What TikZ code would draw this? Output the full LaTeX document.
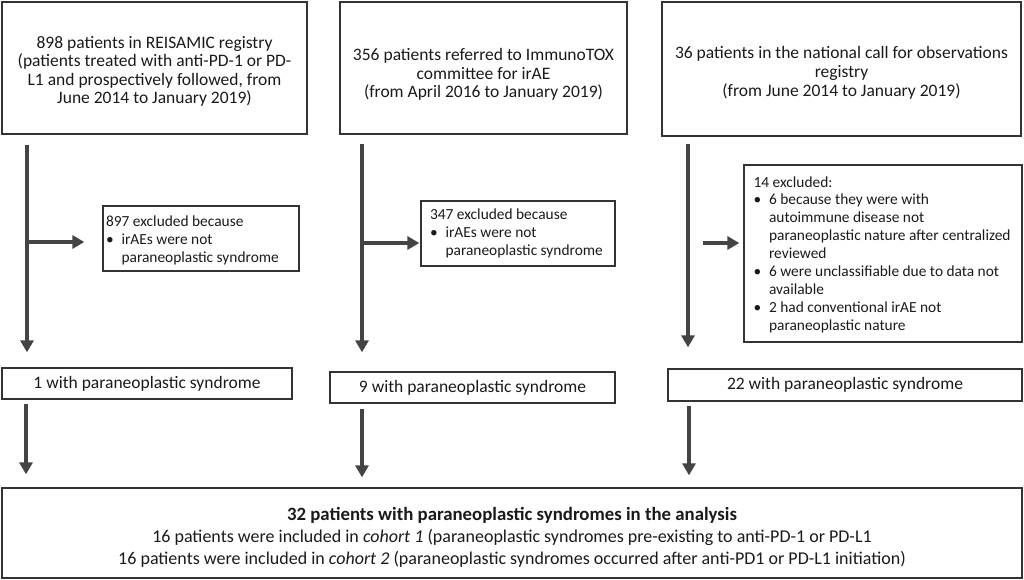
\documentclass[tikz,border=0pt]{standalone}
\usepackage{fontspec}
\setmainfont{Carlito}
\usetikzlibrary{arrows.meta}
\definecolor{boxc}{HTML}{333333}
\definecolor{arrc}{HTML}{444444}
\definecolor{txt}{HTML}{1A1A1A}
\begin{document}
\begin{tikzpicture}[x=1pt,y=-1pt,
  box/.style={draw=boxc, line width=1.3pt, inner sep=0pt, text=txt, align=center},
  topfont/.style={font=\fontsize{17.5}{18.6}\selectfont},
  exfont/.style={font=\fontsize{15.4}{17.9}\selectfont},
  withfont/.style={font=\fontsize{17.5}{19}\selectfont},
  botfont/.style={font=\fontsize{18}{21.8}\selectfont},
  extext/.style={text=txt, align=left, inner sep=0pt, anchor=west},
  arr/.style={draw=arrc, line width=4.2pt, -{Triangle[width=13pt,length=12pt]}}
]
\useasboundingbox (0,0) rectangle (1024,579);
\newcommand{\bul}{\makebox[15.5pt][l]{\textbullet}}
\newcommand{\ind}{\hspace*{15.5pt}}
\newcommand{\lift}[1]{\rule{0pt}{#1}}

% top boxes
\node[box, topfont, minimum width=305, minimum height=132] (top1) at (154.5,68)
  {\lift{19pt}898 patients in REISAMIC registry\\(patients treated with anti-PD-1 or PD-\\L1 and prospectively followed, from\\June 2014 to January 2019)};
\node[box, topfont, minimum width=287, minimum height=132] (top2) at (483.5,68)
  {\lift{25pt}356 patients referred to ImmunoTOX\\committee for irAE\\(from April 2016 to January 2019)};
\node[box, topfont, minimum width=359, minimum height=134] (top3) at (841.5,69)
  {\lift{20pt}36 patients in the national call for observations\\registry\\(from June 2014 to January 2019)};

% exclusion boxes
\node[box, minimum width=196, minimum height=65] (ex1) at (201,238.5) {};
\node[extext, exfont] (ex1t) at ([xshift=3.5pt,yshift=-1.5pt]ex1.west)
  {897 excluded because\\\bul irAEs were not\\\ind paraneoplastic syndrome};
\node[box, minimum width=194, minimum height=65] (ex2) at (518,233.5) {};
\node[extext, exfont] (ex2t) at ([xshift=9.5pt]ex2.west)
  {347 excluded because\\\bul irAEs were not\\\ind paraneoplastic syndrome};
\node[box, minimum width=278, minimum height=177] (ex3) at (883,253.5) {};
\node[extext, exfont] (ex3t) at ([xshift=10pt,yshift=-1pt]ex3.west)
  {14 excluded:\\\bul 6 because they were with\\\ind autoimmune disease not\\\ind paraneoplastic nature after centralized\\\ind reviewed\\\bul 6 were unclassifiable due to data not\\\ind available\\\bul 2 had conventional irAE not\\\ind paraneoplastic nature};

% with boxes
\node[box, withfont, minimum width=290, minimum height=31] (with1) at (147,383.5) {1 with paraneoplastic syndrome};
\node[box, withfont, minimum width=285, minimum height=31] (with2) at (472.5,387.5) {9 with paraneoplastic syndrome};
\node[box, withfont, minimum width=354, minimum height=32] (with3) at (845,385) {22 with paraneoplastic syndrome};

% bottom box
\node[box, botfont, minimum width=1020, minimum height=90] (bot) at (512,533)
  {\lift{22pt}{\fontsize{18.8}{21.8}\selectfont\textbf{32 patients with paraneoplastic syndromes in the analysis}}\\
   16 patients were included in \textit{cohort 1} (paraneoplastic syndromes pre-existing to anti-PD-1 or PD-L1\\
   16 patients were included in \textit{cohort 2} (paraneoplastic syndromes occurred after anti-PD1 or PD-L1 initiation)};

% column coordinates
\coordinate (v1) at (27,0);
\coordinate (v2) at (362,0);
\coordinate (v3) at (688,0);
\coordinate (b1) at (27,242);
\coordinate (b2) at (363,243);
\coordinate (b3) at (703,243);
\coordinate (w1) at (26,0);
\coordinate (w2) at (362,0);
\coordinate (w3) at (689,0);

% vertical arrows top -> with
\draw[arr] (top1.south -| v1) ++(0,10) -- ([yshift=15pt]with1.north -| v1);
\draw[arr] (top2.south -| v2) ++(0,9) -- ([yshift=19pt]with2.north -| v2);
\draw[arr] (top3.south -| v3) ++(0,7) -- ([yshift=21pt]with3.north -| v3);

% branch arrows
\draw[arr] (b1) -- ([xshift=-18pt]ex1.west |- b1);
\draw[arr] (b2) -- ([xshift=-1pt]ex2.west |- b2);
\draw[arr] (b3) -- ([xshift=-4pt]ex3.west |- b3);

% bottom arrows
\draw[arr] (with1.south -| w1) ++(0,4) -- ([yshift=13pt]bot.north -| w1);
\draw[arr] (with2.south -| w2) ++(0,5) -- ([yshift=10pt]bot.north -| w2);
\draw[arr] (with3.south -| w3) ++(0,4) -- ([yshift=12pt]bot.north -| w3);
\end{tikzpicture}
\end{document}
